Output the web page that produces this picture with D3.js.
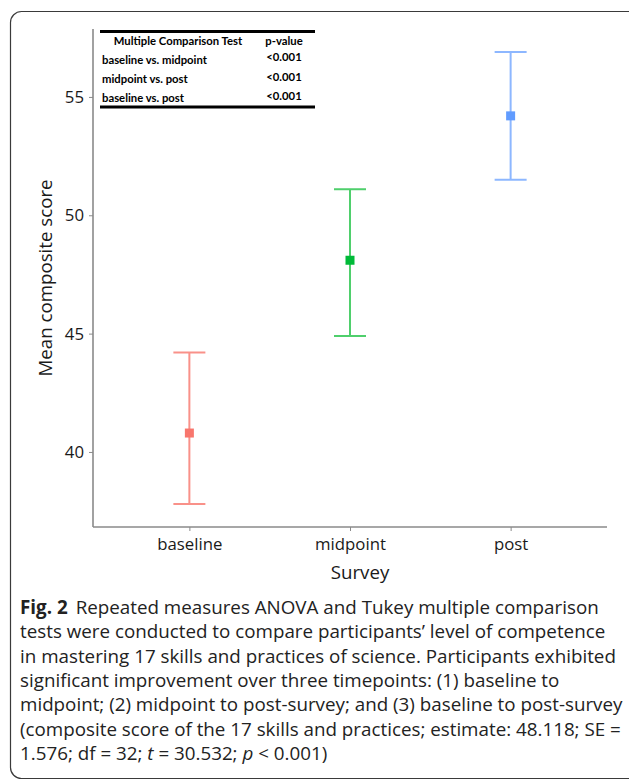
<!DOCTYPE html>
<html>
<head>
<meta charset="utf-8">
<script src="https://cdn.jsdelivr.net/npm/d3@7"></script>
<style>
  body { margin: 0; background: #fff; }
  svg { display: block; }
</style>
</head>
<body>
<div id="chart"></div>
<script>
// data
const surveys = ["baseline", "midpoint", "post"];
const means = [40.8, 48.1, 54.2];
const lower = [37.8, 44.9, 51.5];
const upper = [44.2, 51.1, 56.9];
const colors = ["#F8766D", "#00BA38", "#619CFF"];
const lineColors = ["#f99189", "#4fcf6c", "#8db7ff"];
const yTicks = [40, 45, 50, 55];

const tableHead = ["Multiple Comparison Test", "p-value"];
const comparisons = ["baseline vs. midpoint", "midpoint vs. post", "baseline vs. post"];
const pValues = ["<0.001", "<0.001", "<0.001"];

const captionLines = [
  "Repeated measures ANOVA and Tukey multiple comparison",
  "tests were conducted to compare participants\u2019 level of competence",
  "in mastering 17 skills and practices of science. Participants exhibited",
  "significant improvement over three timepoints: (1) baseline to",
  "midpoint; (2) midpoint to post-survey; and (3) baseline to post-survey",
  "(composite score of the 17 skills and practices; estimate: 48.118; SE =",
  "1.576; df = 32; t = 30.532; p < 0.001)"
];

const width = 629, height = 784;
const margin = {left: 93, right: 22, top: 29, bottom: 257};

const svg = d3.select("#chart").append("svg")
  .attr("width", width)
  .attr("height", height);

// figure frame
svg.append("rect")
  .attr("x", 10.5).attr("y", 11.5)
  .attr("width", 640).attr("height", 767)
  .attr("rx", 11).attr("ry", 11)
  .attr("fill", "none")
  .attr("stroke", "#3a3a3a")
  .attr("stroke-width", 1.2);

const plotW = width - margin.left - margin.right;
const plotH = height - margin.top - margin.bottom;

const g = svg.append("g")
  .attr("transform", "translate(" + margin.left + "," + margin.top + ")");

// discrete x with ggplot-like expansion
let x = d3.scalePoint()
  .domain(surveys)
  .range([0, plotW])
  .padding(0.6);

let y = d3.scaleLinear()
  .domain([36.83, 57.87])
  .range([plotH, 0]);

// axes
let yAxis = g.append("g")
  .call(d3.axisLeft(y).tickValues(yTicks).tickSize(4).tickPadding(5));
let xAxis = g.append("g")
  .attr("transform", "translate(0," + plotH + ")")
  .call(d3.axisBottom(x).tickSize(4).tickPadding(5));

[yAxis, xAxis].forEach(function(a) {
  a.select(".domain").attr("stroke", "#8a8a8a").attr("stroke-width", 1.6);
  a.selectAll(".tick line").attr("stroke", "#8a8a8a").attr("stroke-width", 1);
  a.selectAll(".tick text")
    .attr("fill", "#1a1a1a")
    .style("font-family", "'Open Sans', sans-serif")
    .style("font-size", "16.8px");
});
// ggplot-style axis lines only, no extra ticks past ends
yAxis.select(".domain").attr("d", "M0," + plotH + "V0");
xAxis.select(".domain").attr("d", "M0,0H" + plotW);
xAxis.selectAll(".tick text").attr("dy", "0.85em");

// axis titles
g.append("text")
  .attr("x", x("midpoint") + 10)
  .attr("y", plotH + 52)
  .attr("text-anchor", "middle")
  .style("font-family", "'Open Sans', sans-serif")
  .style("font-size", "18.7px")
  .attr("fill", "#1a1a1a")
  .text("Survey");

g.append("text")
  .attr("transform", "translate(-41," + (plotH / 2) + ") rotate(-90)")
  .attr("text-anchor", "middle")
  .style("font-family", "'Open Sans', sans-serif")
  .style("font-size", "18.7px")
  .attr("fill", "#1a1a1a")
  .text("Mean composite score");

// error bars
const capHalf = 16;
const bars = g.selectAll(".err")
  .data(surveys)
  .enter().append("g")
  .attr("class", "err");

bars.append("line")
  .attr("x1", function(d) { return x(d); })
  .attr("x2", function(d) { return x(d); })
  .attr("y1", function(d, i) { return y(lower[i]); })
  .attr("y2", function(d, i) { return y(upper[i]); })
  .attr("stroke", function(d, i) { return lineColors[i]; })
  .attr("stroke-width", 2);

bars.append("line")
  .attr("x1", function(d) { return x(d) - capHalf; })
  .attr("x2", function(d) { return x(d) + capHalf; })
  .attr("y1", function(d, i) { return y(upper[i]); })
  .attr("y2", function(d, i) { return y(upper[i]); })
  .attr("stroke", function(d, i) { return lineColors[i]; })
  .attr("stroke-width", 2);

bars.append("line")
  .attr("x1", function(d) { return x(d) - capHalf; })
  .attr("x2", function(d) { return x(d) + capHalf; })
  .attr("y1", function(d, i) { return y(lower[i]); })
  .attr("y2", function(d, i) { return y(lower[i]); })
  .attr("stroke", function(d, i) { return lineColors[i]; })
  .attr("stroke-width", 2);

bars.append("rect")
  .attr("x", function(d) { return x(d) - 4.5; })
  .attr("y", function(d, i) { return y(means[i]) - 4.5; })
  .attr("width", 9)
  .attr("height", 9)
  .attr("fill", function(d, i) { return colors[i]; });

// comparison table in the top-left corner
const tbl = svg.append("g").attr("transform", "translate(100,0)");
const tblFont = "'Lato', 'Liberation Sans', sans-serif";
const tblSize = "11.3px";
tbl.append("line").attr("x1", 0).attr("x2", 215).attr("y1", 31.5).attr("y2", 31.5)
  .attr("stroke", "#000").attr("stroke-width", 3);
tbl.append("line").attr("x1", 0).attr("x2", 215).attr("y1", 107).attr("y2", 107)
  .attr("stroke", "#000").attr("stroke-width", 3);

tbl.append("text")
  .attr("x", 78).attr("y", 45)
  .attr("text-anchor", "middle")
  .style("font-family", tblFont).style("font-weight", "bold").style("font-size", tblSize)
  .text(tableHead[0]);
tbl.append("text")
  .attr("x", 184).attr("y", 45)
  .attr("text-anchor", "middle")
  .style("font-family", tblFont).style("font-weight", "bold").style("font-size", tblSize)
  .text(tableHead[1]);

tbl.selectAll(".cmp")
  .data(comparisons)
  .enter().append("text")
  .attr("class", "cmp")
  .attr("x", 2)
  .attr("y", function(d, i) { return 63.5 + i * 19.2; })
  .style("font-family", tblFont).style("font-weight", "bold").style("font-size", tblSize)
  .text(function(d) { return d; });

tbl.selectAll(".pv")
  .data(pValues)
  .enter().append("text")
  .attr("class", "pv")
  .attr("x", 184)
  .attr("y", function(d, i) { return 61 + i * 19.5; })
  .attr("text-anchor", "middle")
  .style("font-family", tblFont).style("font-weight", "bold").style("font-size", tblSize)
  .text(function(d) { return d; });

// caption
const cap = svg.append("text")
  .style("font-family", "'Open Sans', sans-serif")
  .style("font-size", "18.8px")
  .attr("fill", "#222");

captionLines.forEach(function(line, i) {
  const t = cap.append("tspan")
    .attr("x", 20)
    .attr("y", 614 + i * 24.3);
  if (i === 0) {
    t.append("tspan").style("font-weight", "bold").text("Fig. 2");
    t.append("tspan").attr("dx", 8).text(line);
  } else if (i === captionLines.length - 1) {
    t.text("1.576; df = 32; ");
    t.append("tspan").style("font-style", "italic").text("t");
    t.append("tspan").text(" = 30.532; ");
    t.append("tspan").style("font-style", "italic").text("p");
    t.append("tspan").text(" < 0.001)");
  } else {
    t.text(line);
  }
});
</script>
</body>
</html>
